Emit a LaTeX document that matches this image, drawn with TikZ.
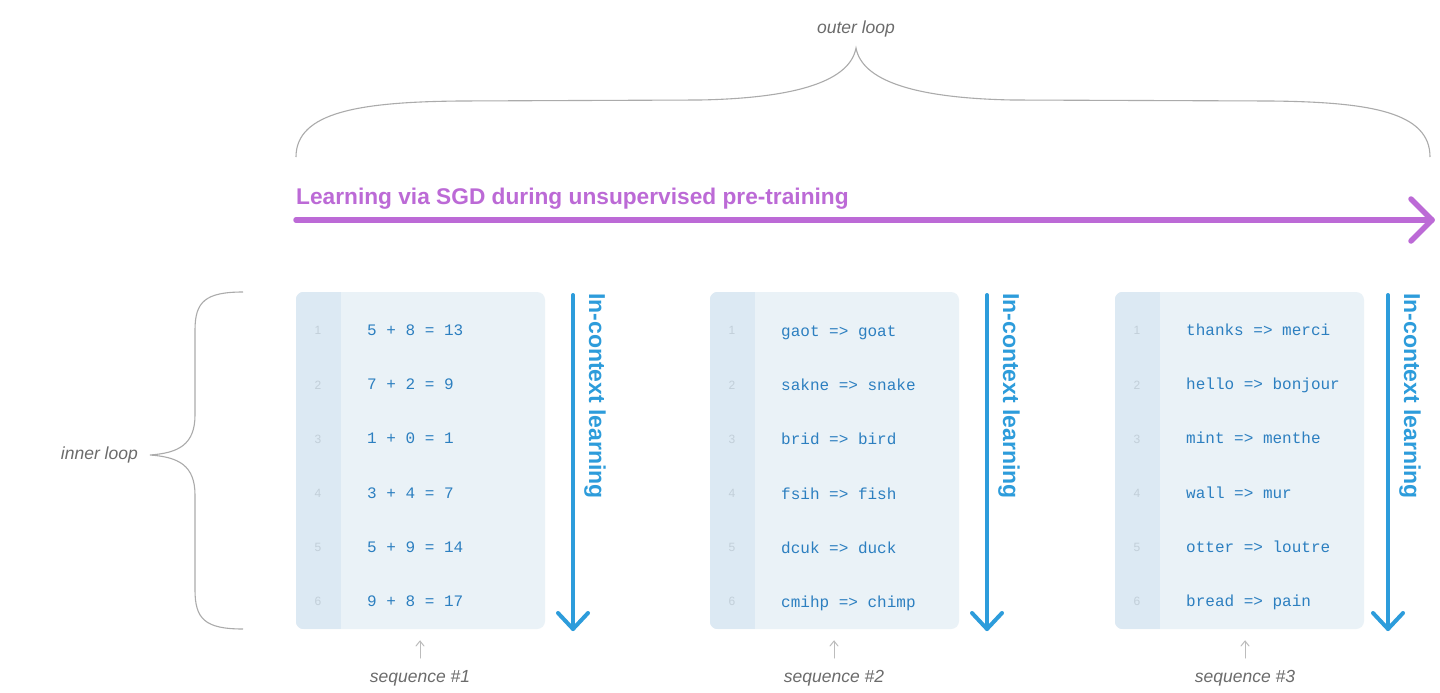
\documentclass[tikz,border=0pt]{standalone}
\usepackage{fontspec}
\setmainfont{Liberation Sans}
\setmonofont{Liberation Mono}
\definecolor{purp}{HTML}{BC6AD6}
\definecolor{barrow}{HTML}{2D9CDB}
\definecolor{codeb}{HTML}{2C7FC0}
\definecolor{boxbg}{HTML}{EAF2F7}
\definecolor{colbg}{HTML}{DCE9F3}
\definecolor{numc}{HTML}{C2CFD9}
\definecolor{brace}{HTML}{ABABAB}
\definecolor{lab}{HTML}{6B6B6B}
\tikzset{
  seqbox/.style={fill=boxbg, rounded corners=8pt, minimum width=249pt, minimum height=337pt, inner sep=0pt, draw=none},
  codetxt/.style={anchor=base west, inner sep=0pt, text=codeb, font=\fontsize{16}{16}\selectfont\ttfamily},
  numtxt/.style={anchor=base, inner sep=0pt, text=numc, font=\fontsize{12}{12}\selectfont},
  iclarrow/.style={draw=barrow, line width=4pt, line cap=round, line join=round},
  icltxt/.style={rotate=-90, anchor=base west, inner sep=0pt, text=barrow, font=\fontsize{23}{23}\selectfont\bfseries},
  bracestyle/.style={draw=brace, line width=1.1pt},
  labtxt/.style={text=lab, inner sep=0pt, font=\fontsize{17.5}{17.5}\selectfont\itshape},
  seqarrow/.style={draw=brace!80, line width=1pt, line cap=round, line join=round},
}
\begin{document}
\begin{tikzpicture}[x=1pt, y=-1pt]
\useasboundingbox (0,0) rectangle (1440,693);
\fill[white] (0,0) rectangle (1440,693);

% outer brace
\node[labtxt, anchor=base] (outer) at (856,34) {outer loop};
\coordinate (obL) at (296,157);
\coordinate (obT) at (856,48);
\coordinate (obR) at (1430,157);
\draw[bracestyle] (obL) .. controls (296,112) and (360,102) .. (460,101) -- (700,100)
  .. controls (800,98) and (850,80) .. (obT)
  .. controls (862,80) and (912,98) .. (1012,100) -- (1270,101)
  .. controls (1370,102) and (1430,112) .. (obR);

% purple arrow
\node[anchor=base west, inner sep=0pt, text=purp, font=\fontsize{22.7}{22.7}\selectfont\bfseries] (sgd) at (296,204) {Learning via SGD during unsupervised pre-training};
\coordinate (pS) at (296,220);
\coordinate (pE) at (1432,220);
\draw[draw=purp, line width=5.5pt, line cap=round, line join=round] (pS) -- (pE);
\draw[draw=purp, line width=5.5pt, line cap=round, line join=round] (pE) ++(-21,-21) -- (pE) -- ++(-21,21);

% inner brace
\node[labtxt, anchor=east] (inner) at (138,455) {inner loop};
\coordinate (ibT) at (243,292);
\coordinate (ibM) at (150,455);
\coordinate (ibB) at (243,629);
\draw[bracestyle] (ibT) .. controls (205,292) and (195,302) .. (195,330) -- (195,415)
  .. controls (195,445) and (178,453) .. (ibM)
  .. controls (178,457) and (195,465) .. (195,495) -- (195,590)
  .. controls (195,619) and (205,629) .. (ibB);

% boxes
\foreach \i/\bx/\ax/\sx in {1/296/573/420, 2/710/987/834, 3/1115/1388/1245} {
  \node[seqbox] (box\i) at (\bx+124.5,460.5) {};
  \begin{scope}
    \clip[rounded corners=8pt] (box\i.north west) rectangle (box\i.south east);
    \fill[colbg] (box\i.north west) rectangle ([xshift=45pt]box\i.south west);
  \end{scope}
  \foreach \r/\ry in {1/330,2/385,3/439,4/493,5/547,6/601} {
    \node[numtxt] (n\i\r) at (\bx+22,\ry+4) {\r};
  }
  \coordinate (as\i) at (\ax,295);
  \coordinate (ae\i) at (\ax,629);
  \draw[iclarrow] (as\i) -- (ae\i);
  \draw[iclarrow] (ae\i) ++(-15,-16) -- (ae\i) -- ++(15,-16);
  \node[icltxt] (icl\i) at (\ax+16,293) {In-context learning};
  \node[labtxt, anchor=base] (seq\i) at (\sx,682) {sequence \#\i};
  \coordinate (ss\i) at (\sx,658);
  \coordinate (se\i) at (\sx,641);
  \draw[seqarrow] (ss\i) -- (se\i);
  \draw[seqarrow] (se\i) ++(-4,5) -- (se\i) -- ++(4,5);
}

% code lines
\foreach \t [count=\r] in {5 + 8 = 13, 7 + 2 = 9, 1 + 0 = 1, 3 + 4 = 7, 5 + 9 = 14, 9 + 8 = 17} {
  \pgfmathsetmacro{\yy}{330+54.2*(\r-1)+5.5}
  \node[codetxt] (c1\r) at (367,\yy) {\t};
}
\foreach \t [count=\r] in {gaot => goat, sakne => snake, brid => bird, fsih => fish, dcuk => duck, cmihp => chimp} {
  \pgfmathsetmacro{\yy}{331+54.2*(\r-1)+5.5}
  \node[codetxt] (c2\r) at (781,\yy) {\t};
}
\foreach \t [count=\r] in {thanks => merci, hello => bonjour, mint => menthe, wall => mur, otter => loutre, bread => pain} {
  \pgfmathsetmacro{\yy}{330+54.2*(\r-1)+5.5}
  \node[codetxt] (c3\r) at (1186,\yy) {\t};
}
\end{tikzpicture}
\end{document}
